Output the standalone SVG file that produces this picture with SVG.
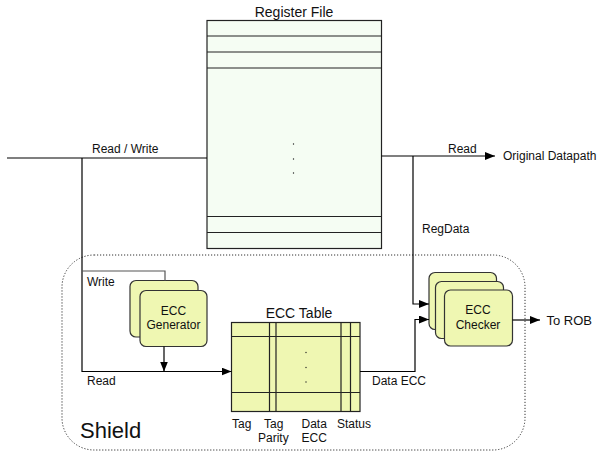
<svg xmlns="http://www.w3.org/2000/svg" width="597" height="453" viewBox="0 0 597 453">
<defs>
<marker id="ah" viewBox="0 0 10 8" refX="10" refY="4" markerWidth="10" markerHeight="8" markerUnits="userSpaceOnUse" orient="auto">
<path d="M0,0 L10,4 L0,8 Z" fill="#000"/>
</marker>
<style>
text{font-family:"Liberation Sans",Arial,sans-serif;fill:#111;}
.lbl{font-size:12px;}
.ttl{font-size:14px;}
.ln{fill:none;stroke:#000;stroke-width:1.2;}
.rf{fill:#F5FDF3;stroke:#222;stroke-width:1.2;}
.ecc{fill:#EFF7B2;stroke:#333;stroke-width:1.2;}
</style>
</defs>
<rect width="597" height="453" fill="#fff"/>

<g id="shield">
<rect x="62" y="255" width="463" height="195" rx="32" ry="32" fill="none" stroke="#333" stroke-width="1" stroke-dasharray="1.2,1.8"/>
<text x="80" y="438" style="font-size:22px">Shield</text>
</g>

<g id="register-file">
<text x="294" y="17" class="ttl" text-anchor="middle">Register File</text>
<rect class="rf" x="207" y="20.5" width="174.5" height="228"/>
<path class="ln" d="M207,36 H381.5 M207,52 H381.5 M207,68 H381.5 M207,216.5 H381.5 M207,232.5 H381.5" style="stroke:#222"/>
<circle cx="293.5" cy="144" r="0.7" fill="#222"/>
<circle cx="293.5" cy="159" r="0.7" fill="#222"/>
<circle cx="293.5" cy="173" r="0.7" fill="#222"/>
</g>

<g id="ecc-generator">
<rect class="ecc" x="130" y="280.5" width="68" height="56.5" rx="6"/>
<rect class="ecc" x="140" y="290.5" width="67" height="56" rx="6"/>
<text x="173.5" y="315" class="lbl" text-anchor="middle">ECC</text>
<text x="173.5" y="329" class="lbl" text-anchor="middle">Generator</text>
</g>

<g id="ecc-table">
<text x="299" y="318" class="ttl" text-anchor="middle">ECC Table</text>
<rect class="ecc" x="231.5" y="322.5" width="128.5" height="89" style="stroke:#222"/>
<path class="ln" d="M231.5,336.5 H360 M231.5,392.5 H360 M269.5,322.5 V411.5 M276,322.5 V411.5 M341,322.5 V411.5 M350.5,322.5 V411.5" style="stroke:#222"/>
<circle cx="306" cy="352.5" r="0.7" fill="#222"/>
<circle cx="306" cy="367.5" r="0.7" fill="#222"/>
<circle cx="306" cy="382" r="0.7" fill="#222"/>
<text x="232" y="428" class="lbl">Tag</text>
<text x="264" y="428" class="lbl">Tag</text>
<text x="258" y="442" class="lbl">Parity</text>
<text x="301.5" y="428" class="lbl">Data</text>
<text x="301.5" y="442" class="lbl">ECC</text>
<text x="337" y="428" class="lbl">Status</text>
</g>

<g id="ecc-checker">
<rect class="ecc" x="429" y="272.5" width="67.5" height="57" rx="6"/>
<rect class="ecc" x="435.5" y="281.5" width="68" height="57" rx="6"/>
<rect class="ecc" x="444.5" y="290" width="68" height="56" rx="6"/>
<text x="478" y="314" class="lbl" text-anchor="middle">ECC</text>
<text x="478" y="329" class="lbl" text-anchor="middle">Checker</text>
</g>

<g id="connectors">
<path class="ln" d="M7,158 H207"/>
<text x="92" y="153" class="lbl">Read / Write</text>
<path class="ln" d="M82,158 V371.5 H231.5" marker-end="url(#ah)"/>
<path class="ln" d="M82,271 H165 V280.5" style="stroke:#555"/>
<text x="87" y="286" class="lbl">Write</text>
<text x="87" y="385" class="lbl">Read</text>
<path class="ln" d="M164,346.5 V371.5" marker-end="url(#ah)"/>
<path class="ln" d="M381.5,156 H495" marker-end="url(#ah)"/>
<text x="448" y="153" class="lbl">Read</text>
<text x="503" y="160" class="lbl">Original Datapath</text>
<path class="ln" d="M413,156 V304 H429" marker-end="url(#ah)"/>
<text x="422" y="233" class="lbl">RegData</text>
<path class="ln" d="M360,371.5 H415 V319.5 H429" marker-end="url(#ah)"/>
<text x="372" y="385" class="lbl">Data ECC</text>
<path class="ln" d="M512.5,320 H540" marker-end="url(#ah)"/>
<text x="546.5" y="325" style="font-size:13px">To ROB</text>
</g>
</svg>
